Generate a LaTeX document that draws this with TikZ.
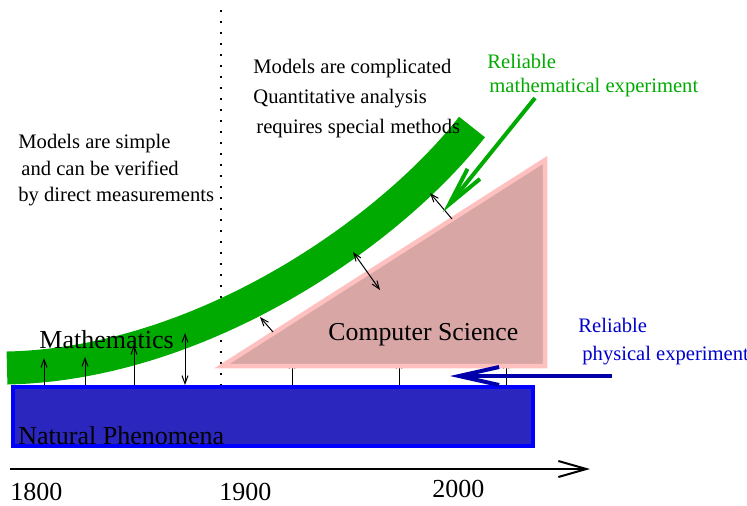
\documentclass[tikz,border=0pt]{standalone}
\usepackage{fontspec}
\setmainfont{Liberation Serif}
\usetikzlibrary{arrows.meta, calc}
\definecolor{mathgruen}{HTML}{00AA00}
\definecolor{naturblau}{HTML}{2A26BE}
\definecolor{randblau}{HTML}{0000FF}
\definecolor{pfeilblau}{HTML}{0000AA}
\definecolor{textblau}{HTML}{0000CC}
\definecolor{infrosa}{HTML}{D9A6A6}
\definecolor{randrosa}{HTML}{FFC0C0}

\begin{document}
\begin{tikzpicture}[
    x=0.5pt, y=-0.5pt,
    every node/.style={inner sep=0pt, anchor=base west},
    txt/.style={font=\fontsize{10.3}{12}\selectfont},
    gross/.style={font=\fontsize{13}{15}\selectfont},
    duenn/.style={line width=0.5pt, -{Straight Barb[length=4pt, width=3pt]}},
    beide/.style={line width=0.5pt, {Straight Barb[length=4pt, width=3pt]}-{Straight Barb[length=4pt, width=3pt]}},
  ]
  \useasboundingbox (0,0) rectangle (747,505);

  % Trennlinie bei 1900
  \coordinate (trennO) at (221,10);
  \coordinate (trennU) at (221,385);
  \draw[line width=0.9pt, dash pattern=on 0.9pt off 4.6pt] (trennO) -- (trennU);

  % Natur (blauer Balken)
  \node[draw=randblau, fill=naturblau, line width=2pt, anchor=center,
        minimum width=260pt, minimum height=29.5pt] (natur) at (273,416.5) {};
  \node[gross] (naturtext) at (18,444) {Natural Phenomena};

  % Mathematik (gruenes Band)
  \coordinate (bandA) at (7,368);
  \coordinate (bandB) at (472,127);
  \draw[mathgruen, line width=16.5pt] (bandA) .. controls (200,364) and (388,234) .. (bandB);

  % Pfeile Natur -> Mathematik
  \foreach \ax/\ay in {44/358, 85/357, 134/345}
    \draw[duenn] (\ax,0 |- natur.north) -- (\ax,\ay);
  \draw[beide] (185,0 |- natur.north) -- (185,333);
  \node[gross] (mathe) at (39,348) {Mathematics};

  % Pfeile Natur -> Informatik (Spitzen unter dem Dreieck)
  \foreach \sx in {292,399,506}
    \draw[duenn] (\sx,0 |- natur.north) -- (\sx,359);

  % Informatik (Dreieck)
  \coordinate (dreieckL) at (222,366);
  \coordinate (dreieckO) at (545,160);
  \coordinate (dreieckR) at (545,366);
  \filldraw[fill=infrosa, draw=randrosa, line width=2.25pt]
    (dreieckL) -- (dreieckO) -- (dreieckR) -- cycle;
  \node[font=\fontsize{12.9}{15}\selectfont] (info) at (328,340) {Computer Science};

  % Pfeile zwischen Band und Dreieck
  \coordinate (k1a) at (273,332); \coordinate (k1b) at (260,317);
  \coordinate (k2a) at (380,290); \coordinate (k2b) at (353,252);
  \coordinate (k3a) at (452,219); \coordinate (k3b) at (430,193);
  \draw[duenn] (k1a) -- (k1b);
  \draw[beide] (k2a) -- (k2b);
  \draw[duenn] (k3a) -- (k3b);

  % mathematisches Experiment
  \coordinate (mexA) at (535,98);
  \coordinate (mexB) at (443,212);
  \draw[mathgruen, line width=2pt, -{Straight Barb[length=19.5pt, width=8pt]}] (mexA) -- (mexB);
  \node[txt, mathgruen] (mex1) at (487,68) {Reliable};
  \node[txt, mathgruen] (mex2) at (489,92) {mathematical experiment};

  % physikalisches Experiment
  \coordinate (pexA) at (612,376);
  \coordinate (pexB) at (450,376);
  \draw[pfeilblau, line width=2pt, -{Straight Barb[length=20pt, width=9pt]}] (pexA) -- (pexB);
  \node[txt, textblau] (pex1) at (578,332) {Reliable};
  \node[txt, textblau] (pex2) at (582,360) {physical experiment};

  % Texte oben
  \node[txt] (einfach1) at (18,148) {Models are simple};
  \node[txt] (einfach2) at (21,175) {and can be verified};
  \node[txt] (einfach3) at (18,201) {by direct measurements};
  \node[txt] (kompl1) at (253,73) {Models are complicated};
  \node[txt] (kompl2) at (253,103) {Quantitative analysis};
  \node[txt] (kompl3) at (256,133) {requires special methods};

  % Zeitachse
  \coordinate (achseA) at (10,469);
  \coordinate (achseB) at (590,469);
  \draw[line width=1pt, -{Straight Barb[length=14pt, width=8pt]}] (achseA) -- (achseB);
  \node[gross] (j1800) at (10,500) {1800};
  \node[gross] (j1900) at (219,500) {1900};
  \node[gross] (j2000) at (432,497) {2000};
\end{tikzpicture}
\end{document}
